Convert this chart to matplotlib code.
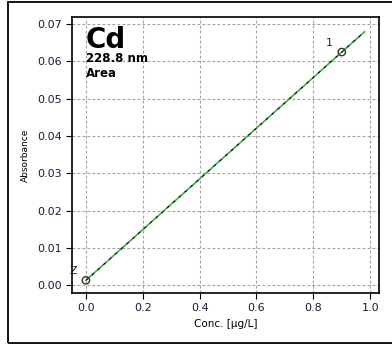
import numpy as np
import matplotlib.pyplot as plt
from matplotlib.patches import Rectangle

# calibration data
conc = [0.0, 0.9]
absorb = [0.0013, 0.0625]
point_labels = ['Z', '1']
fit_x = [0.0, 0.98]
slope = 0.068
intercept = 0.0013
fit_y = [intercept + slope * x for x in fit_x]

xticks = [0.0, 0.2, 0.4, 0.6, 0.8, 1.0]
yticks = [0.00, 0.01, 0.02, 0.03, 0.04, 0.05, 0.06, 0.07]

fig = plt.figure(figsize=(3.92, 3.45), dpi=100)
W, H = 392, 345
# outer frame
fig.patches.append(Rectangle((8 / W, 2 / H), 400 / W, 341 / H, transform=fig.transFigure,
                             fill=False, edgecolor='black', linewidth=1.3))
ax = fig.add_axes([72 / W, 1 - 293 / H, (379 - 72) / W, (293 - 17) / H])

ax.plot(fit_x, fit_y, color='#4aa84a', linewidth=1.2, zorder=3)
ax.plot(fit_x, fit_y, color='black', linewidth=0.7, dashes=(3, 5), zorder=4)
ax.scatter(conc, absorb, s=28, facecolors='none', edgecolors='#333333', linewidths=1.0, zorder=5)
for x, y, t in zip(conc, absorb, point_labels):
    ax.annotate(t, (x, y), xytext=(-9, 3), textcoords='offset points', fontsize=8,
                color='#222222', ha='center', va='bottom')

ax.set_xlim(-0.049, 1.031)
ax.set_ylim(-0.0021, 0.0719)
ax.set_xticks(xticks)
ax.set_yticks(yticks)
ax.set_xticklabels(['%.1f' % v for v in xticks])
ax.set_yticklabels(['%.2f' % v for v in yticks])
ax.tick_params(labelsize=8, labelcolor='#1a1a3a', length=4, width=0.8, direction='out')
ax.grid(True, color='#a0a0a0', linestyle=(0, (2.5, 2)), linewidth=0.8)
for s in ax.spines.values():
    s.set_linewidth(1.2)

ax.set_xlabel('Conc. [µg/L]', fontsize=7.5, labelpad=4)
ax.set_ylabel('Absorbance', fontsize=6.5, labelpad=5)

ax.text(0.0, 0.0695, 'Cd', fontsize=20, fontweight='bold', va='top', ha='left')
ax.text(0.0, 0.0625, '228.8 nm', fontsize=8.5, fontweight='bold', va='top', ha='left')
ax.text(0.0, 0.0586, 'Area', fontsize=8.5, fontweight='bold', va='top', ha='left')

fig.savefig('out.png', dpi=100)
